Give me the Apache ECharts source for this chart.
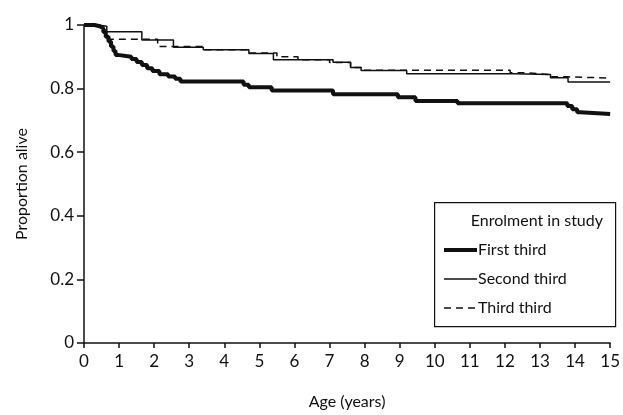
<!DOCTYPE html>
<html>
<head>
<meta charset="utf-8">
<script src="https://cdn.jsdelivr.net/npm/echarts@6/dist/echarts.min.js"></script>
<style>
  html, body { margin: 0; padding: 0; background: #fff; }
  #chart { width: 623px; height: 415px; }
</style>
</head>
<body>
<div id="chart"></div>
<script>
// Kaplan-Meier survival by period of enrolment: [age in years, proportion alive]
const firstThird = [
  [0, 1], [0.3, 0.996], [0.45, 0.99], [0.55, 0.978], [0.62, 0.963], [0.7, 0.948],
  [0.77, 0.932], [0.84, 0.918], [0.9, 0.906], [0.96, 0.9], [1.35, 0.893],
  [1.5, 0.884], [1.65, 0.874], [1.8, 0.864], [1.95, 0.855], [2.15, 0.845],
  [2.4, 0.838], [2.6, 0.831], [2.75, 0.822], [4.55, 0.812], [4.7, 0.804],
  [5.35, 0.794], [7.1, 0.782], [8.95, 0.773], [9.45, 0.761], [10.65, 0.754],
  [13.78, 0.745], [13.92, 0.735], [14.06, 0.726], [14.15, 0.72], [15, 0.72]
];
const secondThird = [
  [0, 1], [0.4, 0.996], [0.65, 0.979], [1.65, 0.953], [2.55, 0.93], [3.4, 0.922],
  [4.7, 0.91], [5.4, 0.891], [7.1, 0.883], [7.6, 0.866], [7.9, 0.857],
  [9.2, 0.847], [12.25, 0.844], [13.3, 0.834], [13.8, 0.821], [15, 0.821]
];
const thirdThird = [
  [0, 1], [0.4, 0.996], [0.6, 0.955], [2.1, 0.932], [3.4, 0.922], [4.7, 0.912],
  [5.5, 0.9], [6.1, 0.891], [7.0, 0.882], [7.6, 0.866], [7.9, 0.858],
  [12.15, 0.85], [12.6, 0.844], [13.3, 0.837], [13.8, 0.833], [15, 0.833]
];
const seriesNames = ['First third', 'Second third', 'Third third'];
const legendTitle = 'Enrolment in study';
const xTitle = 'Age (years)';
const yTitle = 'Proportion alive';

const FONT = 'Lato, "Open Sans", sans-serif';
const INK = '#111';

// legend keys: thick, thin and dashed strokes inside a 33x14 box
const legendIcons = [
  'path://M0,5H33V9H0Z M0,0 M33,14',
  'path://M0,6.3H33V7.7H0Z M0,0 M33,14',
  'path://M0,6.3H7V7.7H0Z M12,6.3H19V7.7H12Z M24,6.3H31V7.7H24Z M0,0 M33,14'
];

const chart = echarts.init(document.getElementById('chart'), null, { renderer: 'canvas' });

function stepLine(name, data, width, type) {
  return {
    name, type: 'line', step: 'end', data,
    symbol: 'none', showSymbol: false, animation: false,
    lineStyle: { color: INK, width, type },
    itemStyle: { color: INK }
  };
}

chart.setOption({
  backgroundColor: '#fff',
  animation: false,
  grid: { left: 84, right: 10, top: 25, bottom: 69, containLabel: false },
  xAxis: {
    type: 'value', min: 0, max: 15, interval: 1,
    name: xTitle, nameLocation: 'middle', nameGap: 51,
    nameTextStyle: { fontFamily: FONT, fontSize: 16, color: INK },
    axisLine: { show: true, onZero: false, lineStyle: { color: INK, width: 1.5 } },
    axisTick: { show: true, inside: false, length: 5, lineStyle: { color: INK, width: 1.5 } },
    axisLabel: { fontFamily: FONT, fontSize: 17, color: INK, margin: 10 },
    splitLine: { show: false }
  },
  yAxis: {
    type: 'value', min: 0, max: 1, interval: 0.2,
    name: yTitle, nameLocation: 'middle', nameGap: 54, nameRotate: 90,
    nameTextStyle: { fontFamily: FONT, fontSize: 16, color: INK },
    axisLine: { show: true, onZero: false, lineStyle: { color: INK, width: 1.5 } },
    axisTick: { show: true, inside: false, length: 7, lineStyle: { color: INK, width: 1.5 } },
    axisLabel: { fontFamily: FONT, fontSize: 17, color: INK, margin: 10 },
    splitLine: { show: false }
  },
  legend: {
    data: seriesNames.map((name, i) => ({ name, icon: legendIcons[i] })),
    orient: 'vertical',
    left: 444, top: 242,
    padding: 0,
    itemGap: 13,
    itemWidth: 33, itemHeight: 14,
    textStyle: { fontFamily: FONT, fontSize: 16, color: INK, padding: [0, 0, 0, -4] },
    selectedMode: false
  },
  graphic: [
    {
      type: 'rect', left: 434, top: 202, z: 0, silent: true,
      shape: { width: 181, height: 124 },
      style: { fill: '#fff', stroke: INK, lineWidth: 1.2 }
    },
    {
      type: 'text', right: 20, top: 213, z: 100,
      style: { text: legendTitle, font: '16px ' + FONT, fill: INK }
    }
  ],
  series: [
    stepLine(seriesNames[0], firstThird, 4, 'solid'),
    stepLine(seriesNames[1], secondThird, 1.5, 'solid'),
    stepLine(seriesNames[2], thirdThird, 1.5, [7, 5])
  ]
});
</script>
</body>
</html>
